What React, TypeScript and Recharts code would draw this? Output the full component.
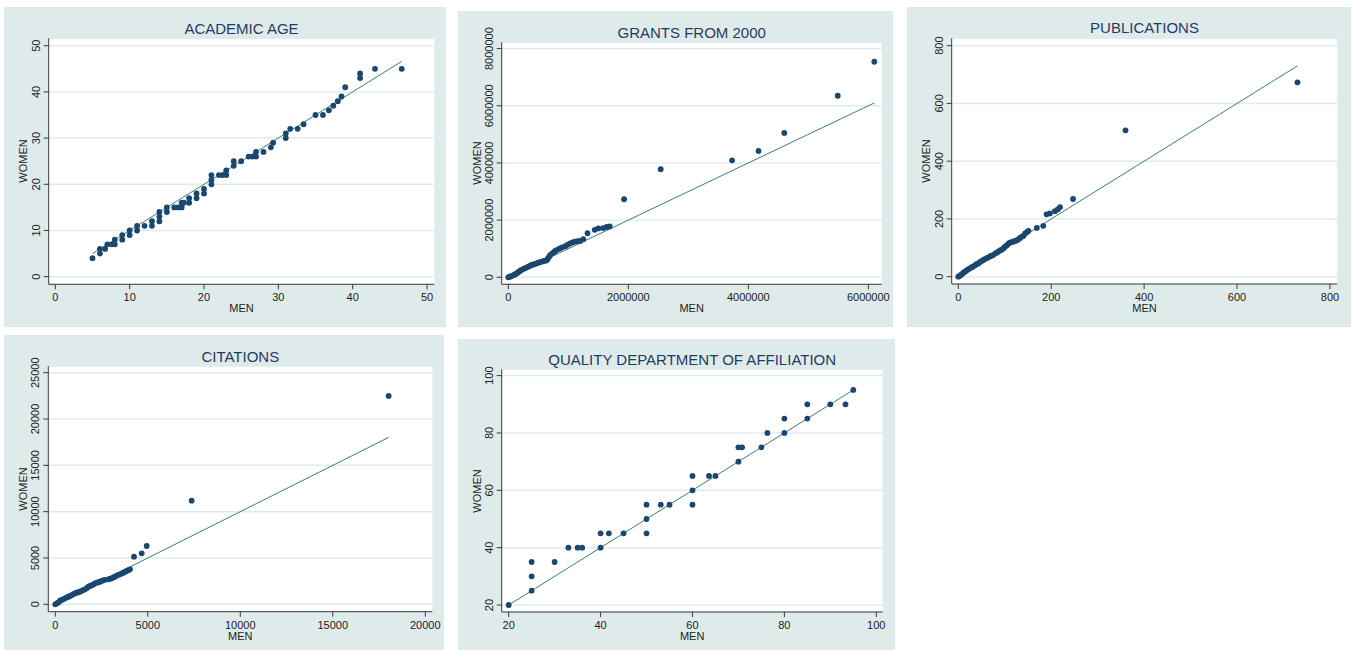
import { ScatterChart, Scatter, XAxis, YAxis, CartesianGrid, ReferenceLine } from "recharts";

const FONT = '"Liberation Sans", Arial, Helvetica, sans-serif';
const BG = "#dfebeb";
const NAVY = "#1a476f";
const FIT = "#3b7f73";
const GRID = "#e0ecec";
const AXIS = "#3a3a3a";
const INK = "#222";

// academic age (quantiles, men vs women)
const ageMen = [5, 6, 6, 6.7, 7, 7.6, 8, 8, 9, 9, 10, 10, 11, 11, 12, 13, 13, 14, 14, 14, 15, 15, 16, 16.5, 17, 17, 17.3, 18, 18, 19, 19, 20, 20, 21, 21, 21, 22, 22.5, 23, 23, 24, 24, 25, 26, 26.5, 27, 27, 28, 29, 29.3, 31, 31, 31.6, 32.6, 33.4, 35, 36, 36.8, 37.4, 38, 38.5, 39, 41, 41, 43, 46.6];
const ageWomen = [4, 5, 6, 6, 7, 7, 7, 8, 8, 9, 9, 10, 10, 11, 11, 11, 12, 12, 13, 14, 14, 15, 15, 15, 15, 16, 16, 16, 17, 17, 18, 18, 19, 20, 21, 22, 22, 22, 22, 23, 24, 25, 25, 26, 26, 26, 27, 27, 28, 29, 30, 31, 32, 32, 33, 35, 35, 36, 37, 38, 39, 41, 43, 44, 45, 45];
const ageTicks = [0, 10, 20, 30, 40, 50];

// grants from 2000
const grantMen = [0, 20000, 40000, 60000, 80000, 100000, 120000, 140000, 160000, 180000, 200000, 220000, 250000, 280000, 310000, 340000, 370000, 390000, 420000, 450000, 470000, 500000, 530000, 560000, 590000, 620000, 640000, 660000, 680000, 700000, 730000, 760000, 780000, 820000, 860000, 900000, 950000, 990000, 1030000, 1070000, 1110000, 1150000, 1200000, 1250000, 1320000, 1440000, 1500000, 1580000, 1640000, 1690000, 1930000, 2540000, 3730000, 4170000, 4600000, 5490000, 6100000];
const grantWomen = [0, 20000, 30000, 50000, 70000, 90000, 110000, 140000, 170000, 200000, 230000, 260000, 290000, 320000, 350000, 380000, 410000, 430000, 450000, 470000, 490000, 510000, 530000, 550000, 570000, 580000, 600000, 660000, 720000, 780000, 830000, 880000, 920000, 970000, 1010000, 1050000, 1090000, 1140000, 1190000, 1220000, 1250000, 1260000, 1270000, 1330000, 1540000, 1660000, 1710000, 1720000, 1760000, 1780000, 2730000, 3780000, 4090000, 4420000, 5050000, 6350000, 7540000];
const grantXTicks = [0, 2000000, 4000000, 6000000];
const grantYTicks = [0, 2000000, 4000000, 6000000, 8000000];

// publications
const pubMen = [0, 2, 5, 8, 11, 14, 17, 21, 25, 29, 32, 36, 40, 43, 47, 51, 54, 58, 62, 65, 69, 72, 75, 79, 83, 86, 90, 93, 97, 100, 104, 108, 111, 115, 118, 122, 126, 129, 133, 136, 140, 144, 148, 151, 169, 183, 190, 197, 208, 214, 219, 247, 360, 730];
const pubWomen = [0, 2, 5, 9, 14, 17, 21, 25, 29, 33, 35, 40, 44, 46, 51, 55, 58, 62, 65, 67, 71, 73, 75, 80, 83, 87, 91, 93, 98, 103, 108, 114, 118, 120, 121, 124, 126, 129, 134, 138, 141, 150, 155, 159, 169, 176, 216, 219, 227, 233, 241, 269, 507, 673];
const pubTicks = [0, 200, 400, 600, 800];

// citations
const citMen = [0, 80, 170, 254, 350, 440, 524, 620, 710, 795, 890, 980, 1065, 1150, 1240, 1335, 1420, 1510, 1605, 1700, 1790, 1876, 1970, 2060, 2146, 2250, 2330, 2416, 2530, 2649, 2865, 2960, 3046, 3140, 3227, 3320, 3410, 3497, 3590, 3676, 3770, 3858, 3950, 4038, 4254, 4670, 4940, 7370, 18020];
const citWomen = [0, 100, 200, 389, 470, 560, 648, 740, 820, 896, 1000, 1100, 1187, 1250, 1300, 1360, 1450, 1530, 1619, 1750, 1900, 1975, 2050, 2150, 2267, 2330, 2390, 2440, 2540, 2623, 2698, 2760, 2806, 2900, 2980, 3100, 3180, 3238, 3330, 3411, 3500, 3595, 3680, 3778, 5138, 5505, 6293, 11190, 22490];
const citXTicks = [0, 5000, 10000, 15000, 20000];
const citYTicks = [0, 5000, 10000, 15000, 20000, 25000];

// quality of department of affiliation
const qualMen = [20, 25, 25, 25, 30, 33, 35, 36, 40, 40, 41.8, 45, 50, 50, 50, 53.1, 55, 60, 60, 60, 63.6, 65, 70, 70, 70.8, 75, 76.3, 80, 80, 85, 85, 90, 93.3, 95];
const qualWomen = [20, 25, 30, 35, 35, 40, 40, 40, 40, 45, 45, 45, 45, 50, 55, 55, 55, 55, 60, 65, 65, 65, 70, 75, 75, 75, 80, 80, 85, 85, 90, 90, 90, 95];
const qualTicks = [20, 40, 60, 80, 100];

const zip = (xs: number[], ys: number[]) => xs.map((x, i) => ({ x, y: ys[i] }));

const panels = [
  { title: "ACADEMIC AGE", men: ageMen, women: ageWomen, xTicks: ageTicks, yTicks: ageTicks, xDomain: [-0.89, 50.98], yDomain: [-1.65, 51.6], frame: [4, 7, 446, 327], plot: [48.7, 38.3, 434.3, 284.3], titleY: 27.7, menY: 308, womenX: 22.7 },
  { title: "GRANTS FROM 2000", men: grantMen, women: grantWomen, xTicks: grantXTicks, yTicks: grantYTicks, xDomain: [-110000, 6223000], yDomain: [-245000, 8220000], frame: [458, 11, 893, 327], plot: [501.7, 42.3, 881.7, 284.3], titleY: 31.7, menY: 308.3, womenX: 476.7 },
  { title: "PUBLICATIONS", men: pubMen, women: pubWomen, xTicks: pubTicks, yTicks: pubTicks, xDomain: [-14.2, 815.8], yDomain: [-25.3, 825.5], frame: [907, 7, 1351, 327], plot: [951.7, 38.3, 1337.3, 284], titleY: 27.3, menY: 308.3, womenX: 926 },
  { title: "CITATIONS", men: citMen, women: citWomen, xTicks: citXTicks, yTicks: citYTicks, xDomain: [-378, 20378], yDomain: [-799, 25723], frame: [4, 335, 444, 650], plot: [48.3, 366, 432.3, 611.7], titleY: 355.7, menY: 635.7, womenX: 22.7 },
  { title: "QUALITY DEPARTMENT OF AFFILIATION", men: qualMen, women: qualWomen, xTicks: qualTicks, yTicks: qualTicks, xDomain: [18.48, 101.4], yDomain: [17.56, 102.2], frame: [458, 339, 895, 650], plot: [501.7, 369.3, 882.7, 612], titleY: 359.3, menY: 635.7, womenX: 476.7 },
];

function YTick(props: any) {
  const { x, y, payload } = props;
  return (
    <text x={x} y={y} transform={`rotate(-90, ${x}, ${y})`} textAnchor="middle" fontSize={11} fill={INK} fontFamily={FONT}>
      {String(payload.value)}
    </text>
  );
}

const Dot = (props: any) => <circle cx={props.cx} cy={props.cy} r={2.9} fill={NAVY} />;

function Panel({ p }: { p: any }) {
  const [fl, ft, fr, fb] = p.frame;
  const [pl, pt, pr, pb] = p.plot;
  const width = fr - fl;
  const height = fb - ft;
  const data = zip(p.men, p.women);
  const lo = Math.min(...p.men);
  const hi = Math.max(...p.men);
  const cx = (pl + pr) / 2 - fl;
  const cy = (pt + pb) / 2 - ft;
  return (
    <div style={{ position: "absolute", left: fl, top: ft, width, height, background: BG, fontFamily: FONT }}>
      <ScatterChart width={width} height={height} margin={{ top: pt - ft, right: fr - pr, left: 0, bottom: 0 }}>
        <CartesianGrid vertical={false} stroke={GRID} strokeWidth={1.5} fill="#ffffff" fillOpacity={1} />
        <XAxis
          type="number"
          dataKey="x"
          domain={p.xDomain}
          ticks={p.xTicks}
          allowDataOverflow
          interval={0}
          height={fb - pb}
          tickSize={5}
          tickMargin={4}
          axisLine={{ stroke: AXIS }}
          tickLine={{ stroke: AXIS }}
          tick={{ fontSize: 11, fill: INK, fontFamily: FONT }}
          tickFormatter={(v: number) => String(v)}
        />
        <YAxis
          type="number"
          dataKey="y"
          domain={p.yDomain}
          ticks={p.yTicks}
          allowDataOverflow
          interval={0}
          width={pl - fl}
          tickSize={5}
          tickMargin={4}
          axisLine={{ stroke: AXIS }}
          tickLine={{ stroke: AXIS }}
          tick={<YTick />}
        />
        <Scatter data={data} fill={NAVY} shape={<Dot />} isAnimationActive={false} />
        <ReferenceLine segment={[{ x: lo, y: lo }, { x: hi, y: hi }]} stroke={FIT} strokeWidth={1} ifOverflow="visible" />
      </ScatterChart>
      <div style={{ position: "absolute", left: cx, top: p.titleY - ft, transform: "translate(-50%, -50%)", fontSize: 15, lineHeight: "15px", color: "#1f3b63", whiteSpace: "nowrap" }}>
        {p.title}
      </div>
      <div style={{ position: "absolute", left: cx, top: p.menY - ft, transform: "translate(-50%, -50%)", fontSize: 11, lineHeight: "11px", color: INK, whiteSpace: "nowrap" }}>
        MEN
      </div>
      <div style={{ position: "absolute", left: p.womenX - fl, top: cy, transform: "translate(-50%, -50%) rotate(-90deg)", fontSize: 11, lineHeight: "11px", color: INK, whiteSpace: "nowrap" }}>
        WOMEN
      </div>
    </div>
  );
}

export default function App() {
  return (
    <div style={{ position: "absolute", left: 0, top: 0, width: 1351, height: 650, background: "#ffffff", overflow: "hidden" }}>
      {panels.map((p) => (
        <Panel key={p.title} p={p} />
      ))}
    </div>
  );
}
